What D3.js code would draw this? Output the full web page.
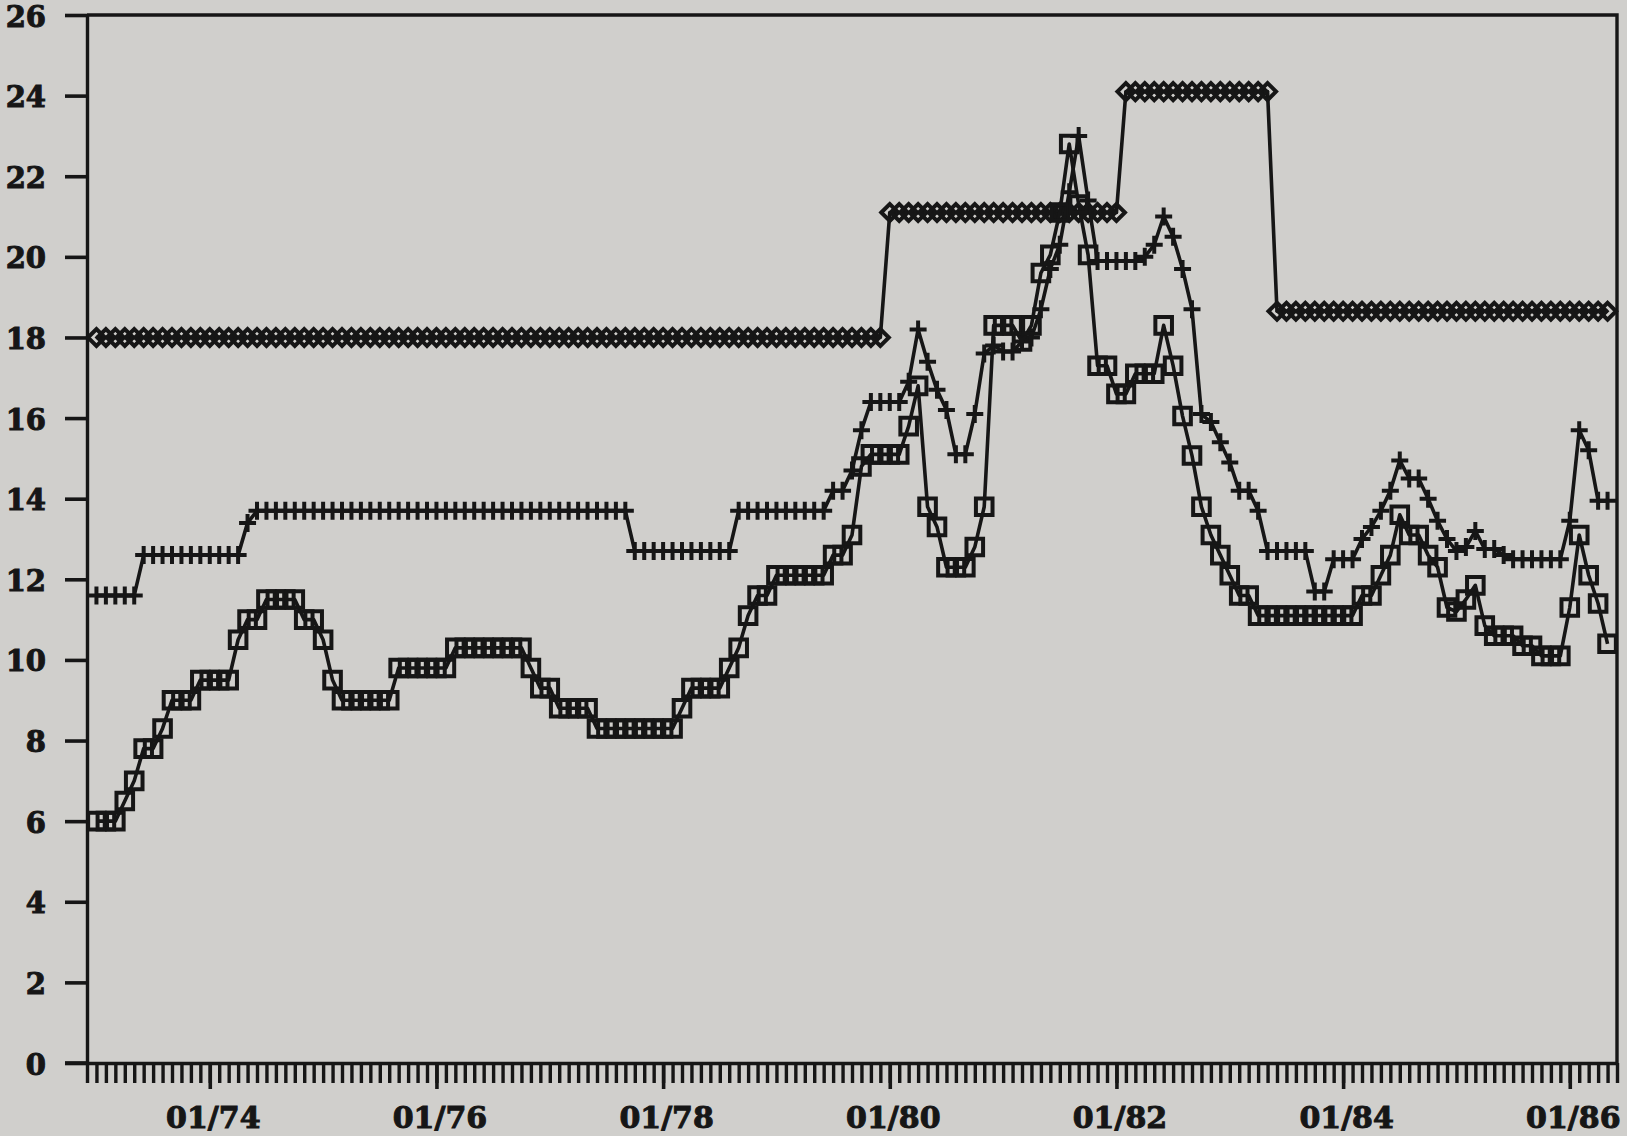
<!DOCTYPE html>
<html>
<head>
<meta charset="utf-8">
<script src="https://cdn.jsdelivr.net/npm/d3@7"></script>
<style>
  html, body { margin: 0; padding: 0; background: #d0cfcc; }
  svg { display: block; }
  .lbl { font-family: "DejaVu Serif", serif; font-weight: bold; fill: #161616; stroke: #161616; stroke-width: 1px; }
</style>
</head>
<body>
<svg id="chart" width="1627" height="1136"></svg>
<script>
// Monthly series, January 1973 (index 0) through May 1986 (index 160)
const yTickValues = [0, 2, 4, 6, 8, 10, 12, 14, 16, 18, 20, 22, 24, 26];
const xTickLabels = ["01/74", "01/76", "01/78", "01/80", "01/82", "01/84", "01/86"];
const xTickMonths = [12, 36, 60, 84, 108, 132, 156];

const diamondSeries = [
  18, 18, 18, 18, 18, 18, 18, 18, 18, 18, 18, 18,
  18, 18, 18, 18, 18, 18, 18, 18, 18, 18, 18, 18,
  18, 18, 18, 18, 18, 18, 18, 18, 18, 18, 18, 18,
  18, 18, 18, 18, 18, 18, 18, 18, 18, 18, 18, 18,
  18, 18, 18, 18, 18, 18, 18, 18, 18, 18, 18, 18,
  18, 18, 18, 18, 18, 18, 18, 18, 18, 18, 18, 18,
  18, 18, 18, 18, 18, 18, 18, 18, 18, 18, 18, 18,
  21.1, 21.1, 21.1, 21.1, 21.1, 21.1, 21.1, 21.1, 21.1, 21.1, 21.1, 21.1,
  21.1, 21.1, 21.1, 21.1, 21.1, 21.1, 21.1, 21.1, 21.1, 21.1, 21.1, 21.1,
  21.1, 24.1, 24.1, 24.1, 24.1, 24.1, 24.1, 24.1, 24.1, 24.1, 24.1, 24.1,
  24.1, 24.1, 24.1, 24.1, 24.1, 18.65, 18.65, 18.65, 18.65, 18.65, 18.65, 18.65,
  18.65, 18.65, 18.65, 18.65, 18.65, 18.65, 18.65, 18.65, 18.65, 18.65, 18.65, 18.65,
  18.65, 18.65, 18.65, 18.65, 18.65, 18.65, 18.65, 18.65, 18.65, 18.65, 18.65, 18.65,
  18.65, 18.65, 18.65, 18.65, 18.65
];

const plusSeries = [
  11.6, 11.6, 11.6, 11.6, 11.6, 12.6, 12.6, 12.6, 12.6, 12.6, 12.6, 12.6,
  12.6, 12.6, 12.6, 12.6, 13.4, 13.7, 13.7, 13.7, 13.7, 13.7, 13.7, 13.7,
  13.7, 13.7, 13.7, 13.7, 13.7, 13.7, 13.7, 13.7, 13.7, 13.7, 13.7, 13.7,
  13.7, 13.7, 13.7, 13.7, 13.7, 13.7, 13.7, 13.7, 13.7, 13.7, 13.7, 13.7,
  13.7, 13.7, 13.7, 13.7, 13.7, 13.7, 13.7, 13.7, 13.7, 12.7, 12.7, 12.7,
  12.7, 12.7, 12.7, 12.7, 12.7, 12.7, 12.7, 12.7, 13.7, 13.7, 13.7, 13.7,
  13.7, 13.7, 13.7, 13.7, 13.7, 13.7, 14.2, 14.2, 14.7, 15.7, 16.4, 16.4,
  16.4, 16.4, 16.9, 18.2, 17.4, 16.7, 16.2, 15.1, 15.1, 16.1, 17.6, 17.8,
  17.65, 17.65, 17.9, 18.0, 18.7, 19.7, 20.3, 21.6, 23.0, 21.4, 19.9, 19.9,
  19.9, 19.9, 19.9, 20.0, 20.3, 21.0, 20.5, 19.7, 18.7, 16.1, 15.9, 15.4,
  14.9, 14.2, 14.2, 13.7, 12.7, 12.7, 12.7, 12.7, 12.7, 11.7, 11.7, 12.5,
  12.5, 12.5, 13.0, 13.3, 13.7, 14.2, 14.95, 14.5, 14.5, 14.0, 13.45, 13.0,
  12.7, 12.8, 13.2, 12.75, 12.75, 12.6, 12.5, 12.5, 12.5, 12.5, 12.5, 12.5,
  13.45, 15.7, 15.2, 13.95, 13.95
];

const squareSeries = [
  6.0, 6.0, 6.0, 6.5, 7.0, 7.8, 7.8, 8.3, 9.0, 9.0, 9.0, 9.5,
  9.5, 9.5, 9.5, 10.5, 11.0, 11.0, 11.5, 11.5, 11.5, 11.5, 11.0, 11.0,
  10.5, 9.5, 9.0, 9.0, 9.0, 9.0, 9.0, 9.0, 9.8, 9.8, 9.8, 9.8,
  9.8, 9.8, 10.3, 10.3, 10.3, 10.3, 10.3, 10.3, 10.3, 10.3, 9.8, 9.3,
  9.3, 8.8, 8.8, 8.8, 8.8, 8.3, 8.3, 8.3, 8.3, 8.3, 8.3, 8.3,
  8.3, 8.3, 8.8, 9.3, 9.3, 9.3, 9.3, 9.8, 10.3, 11.1, 11.6, 11.6,
  12.1, 12.1, 12.1, 12.1, 12.1, 12.1, 12.6, 12.6, 13.1, 14.8, 15.1, 15.1,
  15.1, 15.1, 15.8, 16.8, 13.8, 13.3, 12.3, 12.3, 12.3, 12.8, 13.8, 18.3,
  18.3, 18.3, 17.9, 18.3, 19.6, 20.05, 21.1, 22.8, 21.3, 20.05, 17.3, 17.3,
  16.6, 16.6, 17.1, 17.1, 17.1, 18.3, 17.3, 16.05, 15.07, 13.8, 13.1, 12.6,
  12.1, 11.6, 11.6, 11.1, 11.1, 11.1, 11.1, 11.1, 11.1, 11.1, 11.1, 11.1,
  11.1, 11.1, 11.6, 11.6, 12.1, 12.6, 13.6, 13.1, 13.1, 12.6, 12.3, 11.3,
  11.2, 11.5, 11.85, 10.85, 10.6, 10.6, 10.6, 10.35, 10.35, 10.1, 10.1, 10.1,
  11.3, 13.1, 12.1, 11.4, 10.4
];

const ink = "#161616";
const svg = d3.select("#chart");

const x = d3.scaleLinear().domain([-1, 161]).range([87, 1617]);
const y = d3.scaleLinear().domain([0, 26]).range([1063, 15]);

// Left axis with long outward ticks
const yAxis = svg.append("g")
  .attr("transform", `translate(${x(-1)},0)`)
  .call(d3.axisLeft(y).tickValues(yTickValues).tickSize(22).tickSizeOuter(0).tickPadding(19));
yAxis.select(".domain").attr("stroke", ink).attr("stroke-width", 3.4);
yAxis.selectAll(".tick line").attr("stroke", ink).attr("stroke-width", 3.6);
yAxis.selectAll(".tick text")
  .attr("class", "lbl")
  .attr("font-size", 29)
  .attr("dy", "0.38em");

// Bottom axis: a tick for every month, longer ticks at labelled Januaries
const monthTicks = d3.range(-1, 162);
const xMinor = svg.append("g")
  .attr("transform", `translate(0,${y(0)})`)
  .call(d3.axisBottom(x).tickValues(monthTicks).tickSize(20).tickSizeOuter(0).tickFormat(""));
xMinor.select(".domain").attr("stroke", ink).attr("stroke-width", 3.6);
xMinor.selectAll(".tick line").attr("stroke", ink).attr("stroke-width", 3.4);

const xMajor = svg.append("g")
  .attr("transform", `translate(0,${y(0)})`)
  .call(d3.axisBottom(x).tickValues(xTickMonths).tickSize(26).tickSizeOuter(0)
    .tickFormat((d, i) => xTickLabels[i]));
xMajor.select(".domain").remove();
xMajor.selectAll(".tick line").attr("stroke", ink).attr("stroke-width", 3.6);
xMajor.selectAll(".tick text")
  .attr("class", "lbl")
  .attr("font-size", 30)
  .attr("x", 3)
  .attr("y", 65)
  .attr("dy", 0);

// Frame: leftward stub at zero, top and right edges
svg.append("line")
  .attr("x1", x(-1) - 22).attr("x2", x(-1))
  .attr("y1", y(0)).attr("y2", y(0))
  .attr("stroke", ink).attr("stroke-width", 3.6);
svg.append("path")
  .attr("d", `M${x(-1)},${y(26)}H${x(161)}V${y(0)}`)
  .attr("fill", "none").attr("stroke", ink).attr("stroke-width", 3.4);

// Marker shapes
const markerPath = {
  diamond: (cx, cy) => `M${cx - 8.5},${cy}L${cx},${cy - 8.5}L${cx + 8.5},${cy}L${cx},${cy + 8.5}Z`,
  plus: (cx, cy) => `M${cx - 8.5},${cy}H${cx + 8.5}M${cx},${cy - 9}V${cy + 9}`,
  square: (cx, cy) => `M${cx - 8.3},${cy - 8.3}H${cx + 8.3}V${cy + 8.3}H${cx - 8.3}Z`
};

const series = [
  { values: diamondSeries, shape: "diamond" },
  { values: plusSeries, shape: "plus" },
  { values: squareSeries, shape: "square" }
];

const line = d3.line().x((d, i) => x(i)).y(d => y(d));

const plot = svg.append("g");
series.forEach(s => {
  const g = plot.append("g");
  g.append("path")
    .attr("d", line(s.values))
    .attr("fill", "none")
    .attr("stroke", ink)
    .attr("stroke-width", 3.6)
    .attr("stroke-linejoin", "round");
  g.append("g").selectAll("path")
    .data(s.values)
    .join("path")
    .attr("d", (d, i) => markerPath[s.shape](x(i), y(d)))
    .attr("fill", "none")
    .attr("stroke", ink)
    .attr("stroke-width", 4);
});
</script>
</body>
</html>
